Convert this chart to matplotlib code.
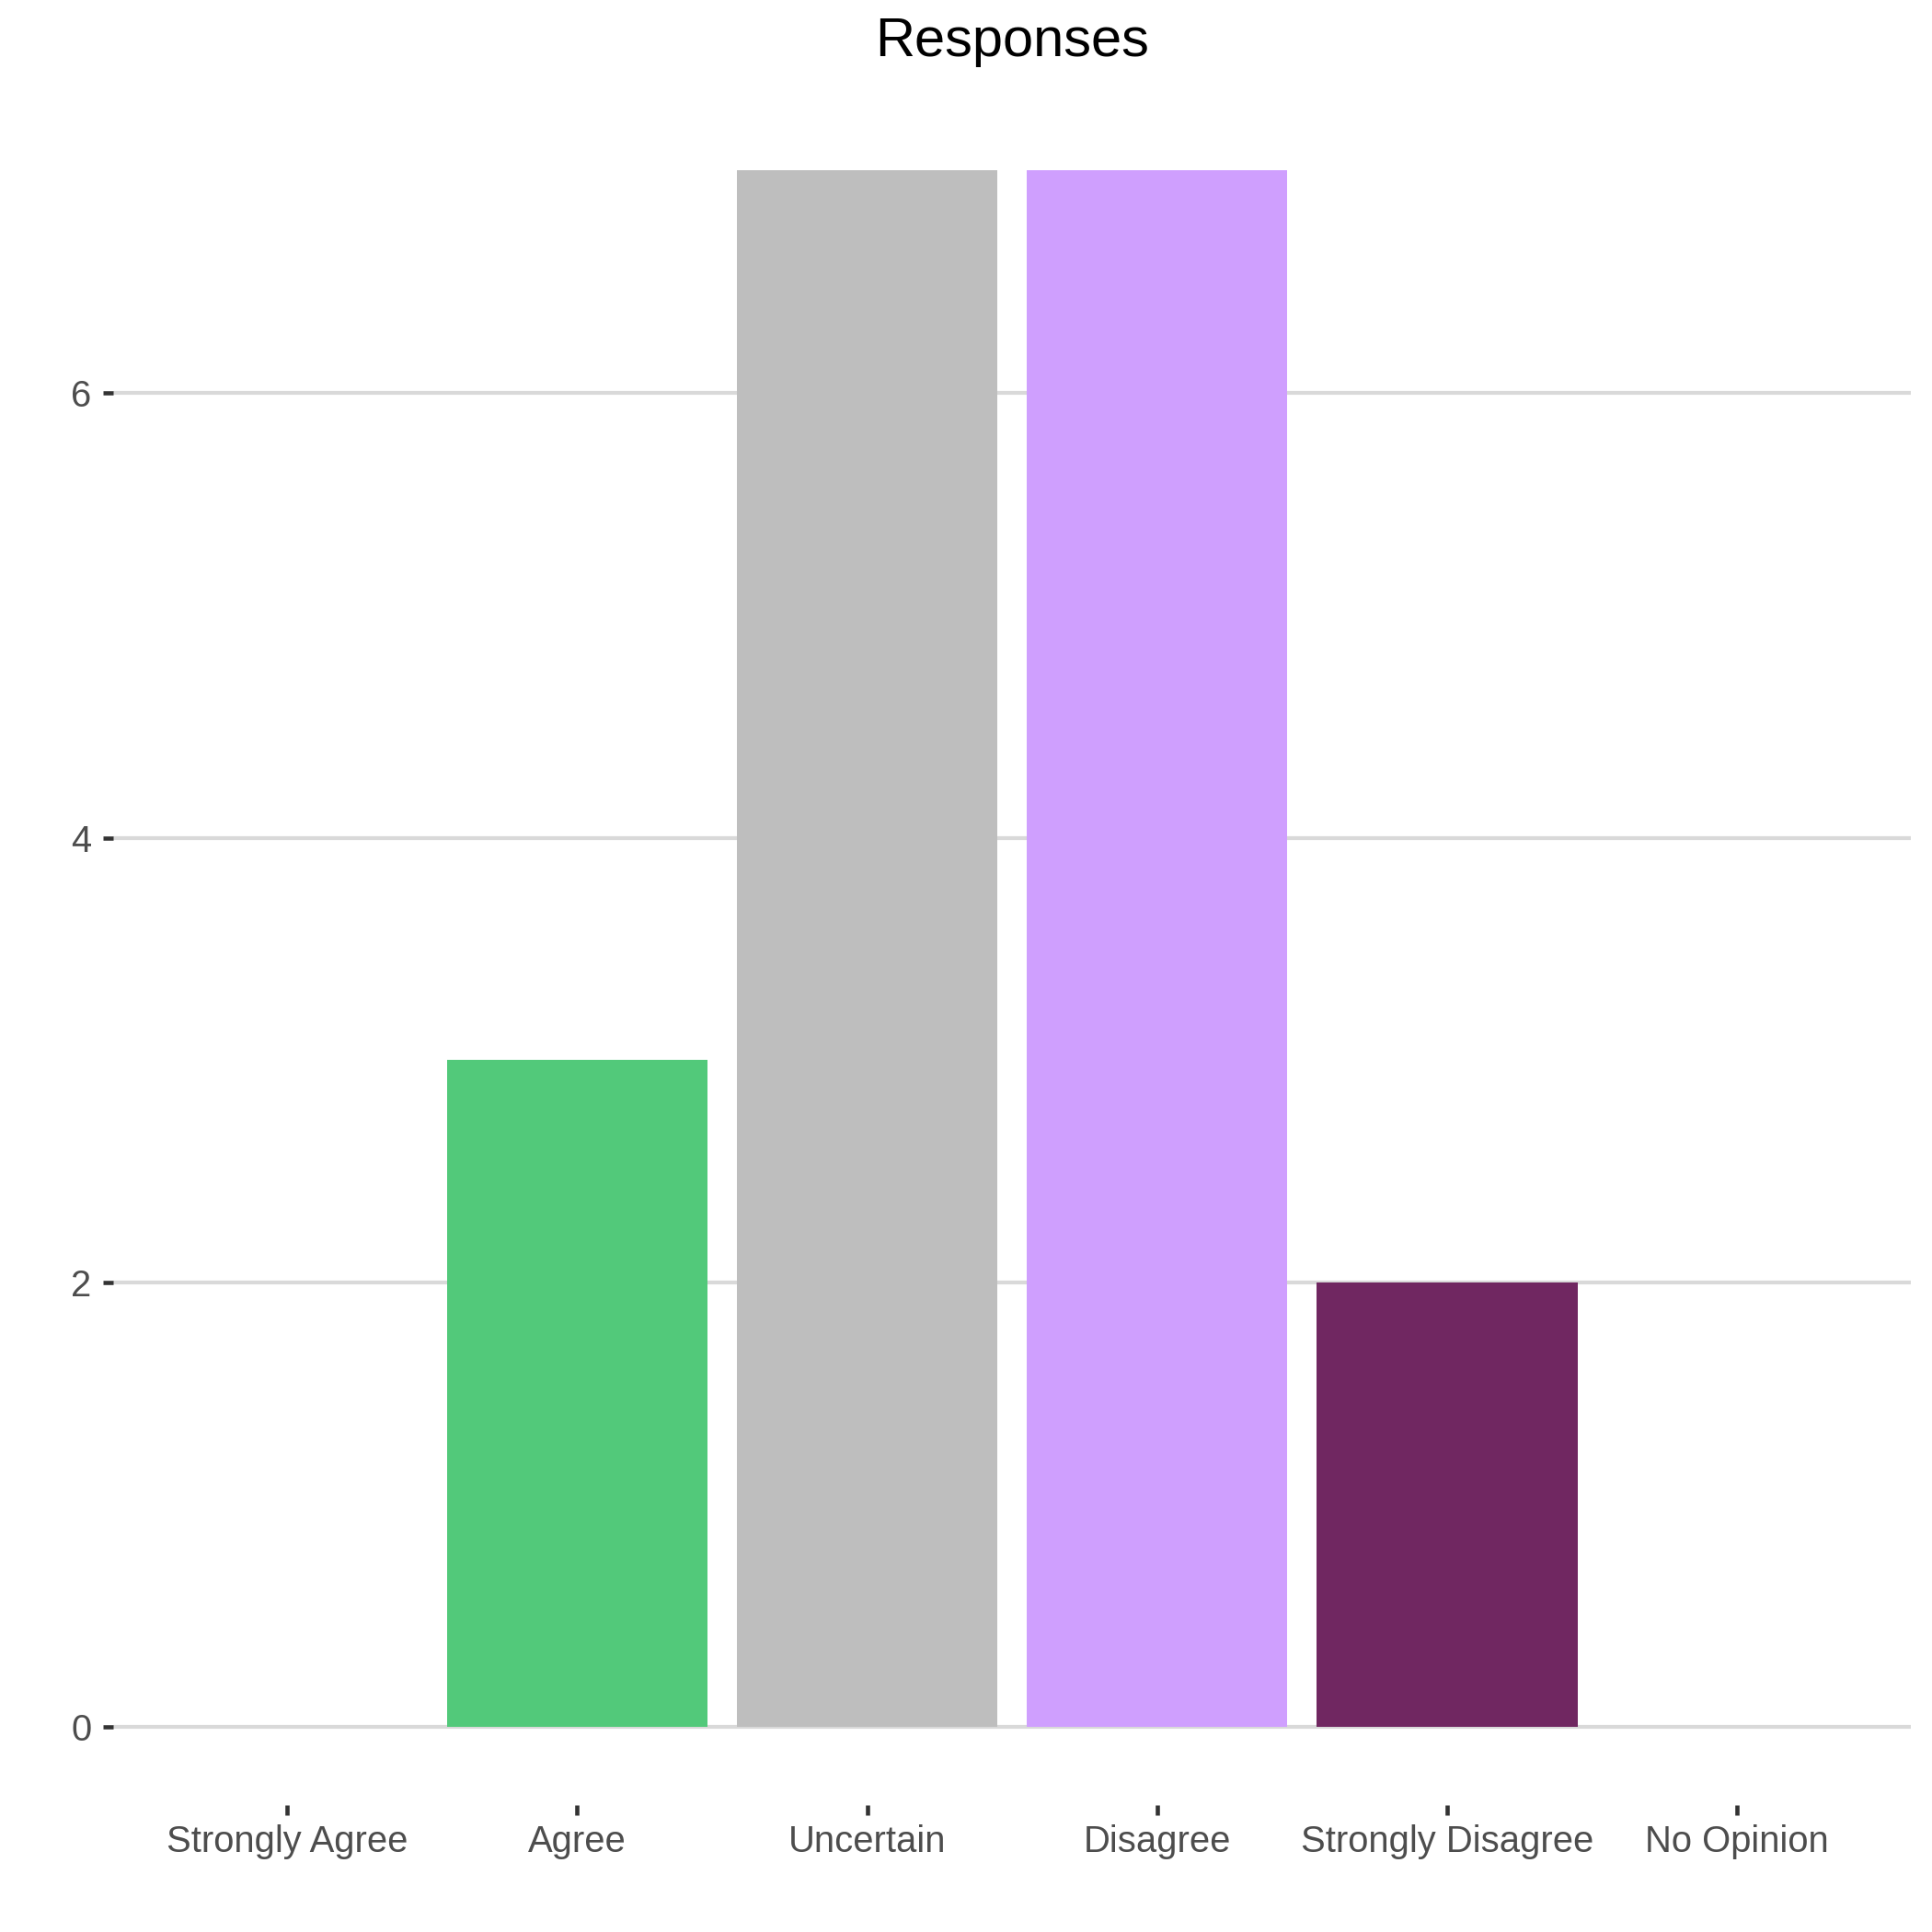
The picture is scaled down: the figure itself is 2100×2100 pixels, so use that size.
import matplotlib
matplotlib.use("Agg")
import matplotlib.pyplot as plt
import numpy as np

# data
categories = ["Strongly Agree", "Agree", "Uncertain", "Disagree", "Strongly Disagree", "No Opinion"]
counts = [0, 3, 7, 7, 2, 0]
bar_colors = ["#1A9850", "#52C97A", "#BEBEBE", "#CF9FFE", "#702761", "#999999"]
y_ticks = [0, 2, 4, 6]

plt.rcParams["font.family"] = ["Liberation Sans", "DejaVu Sans"]

fig = plt.figure(figsize=(7, 7), dpi=300)
ax = fig.add_axes([0.0586, 0.0657, 0.9305, 0.8863])

x = np.arange(len(categories))
ax.bar(x, counts, width=0.9, color=bar_colors, zorder=2)

ax.set_xlim(-0.6, len(categories) - 0.4)
ax.set_ylim(-0.35, 7.35)
ax.set_xticks(x)
ax.set_xticklabels(categories)
ax.set_yticks(y_ticks)

ax.set_axisbelow(True)
ax.grid(axis="y", color="#D9D9D9", linewidth=1.0)
ax.grid(axis="x", visible=False)
for s in ax.spines.values():
    s.set_visible(False)

ax.tick_params(axis="both", colors="#333333", labelcolor="#4D4D4D",
               labelsize=9.6, length=2.75, width=1.1)
ax.tick_params(axis="x", pad=2.4)
ax.tick_params(axis="y", pad=2.9)

ax.set_title("Responses", fontsize=14.3, color="black", pad=9.5)

fig.savefig("out.png", dpi=300, facecolor="white")
